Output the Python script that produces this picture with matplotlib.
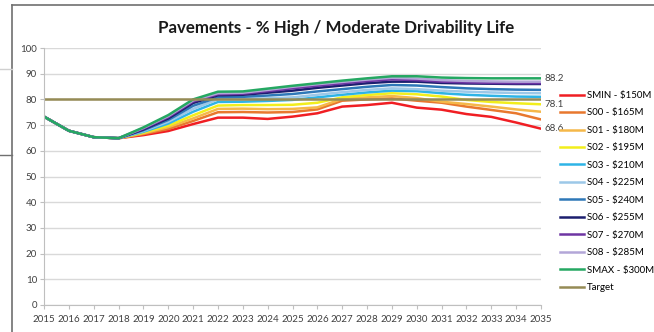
import matplotlib
matplotlib.use("Agg")
import matplotlib.pyplot as plt
from matplotlib.lines import Line2D

plt.rcParams['font.family'] = ['Lato', 'DejaVu Sans']

years = list(range(2015, 2036))

# % of network in high / moderate drivability life per funding scenario
smin = [73.3, 67.8, 65.3, 64.9, 66.1, 67.7, 70.4, 72.9, 72.9, 72.4, 73.3, 74.6, 77.2, 77.8, 78.7, 76.8, 76.0, 74.3, 73.2, 71.0, 68.6]
s00 = [73.3, 67.8, 65.3, 64.9, 66.5, 68.5, 71.6, 75.0, 75.1, 74.9, 75.1, 76.1, 79.5, 80.0, 80.4, 79.5, 78.7, 77.2, 75.9, 74.6, 72.2]
s01 = [73.3, 67.8, 65.3, 64.9, 66.8, 69.2, 72.6, 76.3, 76.4, 76.2, 76.3, 76.9, 80.2, 80.8, 81.3, 80.5, 79.1, 78.2, 77.2, 76.1, 75.2]
s02 = [73.3, 67.8, 65.3, 64.9, 67.1, 69.8, 73.8, 77.6, 77.8, 77.8, 77.9, 78.7, 80.8, 81.7, 82.4, 82.0, 81.1, 79.8, 79.0, 78.5, 78.1]
s03 = [73.3, 67.8, 65.3, 64.9, 67.4, 70.6, 75.2, 79.0, 79.1, 79.4, 79.8, 80.8, 81.8, 82.7, 83.4, 83.2, 82.4, 81.8, 81.4, 81.1, 81.0]
s04 = [73.3, 67.8, 65.3, 64.9, 67.7, 71.3, 76.3, 80.0, 80.1, 80.4, 80.8, 81.8, 82.8, 83.7, 84.3, 84.0, 83.4, 83.0, 82.7, 82.5, 82.4]
s05 = [73.3, 67.8, 65.3, 64.9, 68.0, 72.0, 77.5, 80.8, 81.0, 81.5, 82.1, 83.1, 84.0, 84.9, 85.6, 85.4, 84.8, 84.3, 84.0, 83.8, 83.7]
s06 = [73.3, 67.8, 65.3, 64.9, 68.3, 72.6, 78.6, 81.6, 81.8, 82.6, 83.4, 84.5, 85.4, 86.3, 86.9, 86.9, 86.4, 86.2, 86.1, 86.0, 86.0]
s07 = [73.3, 67.8, 65.3, 64.9, 68.6, 73.1, 79.2, 82.0, 82.2, 83.2, 84.3, 85.3, 86.2, 87.1, 87.8, 87.5, 86.9, 86.6, 86.4, 86.3, 86.3]
s08 = [73.3, 67.8, 65.3, 64.9, 68.9, 73.5, 79.6, 82.4, 82.6, 83.7, 84.9, 85.9, 86.8, 87.7, 88.4, 88.1, 87.5, 87.2, 87.0, 86.9, 86.9]
smax = [73.3, 67.8, 65.3, 64.9, 69.1, 73.9, 80.0, 83.0, 83.1, 84.2, 85.3, 86.3, 87.3, 88.2, 89.0, 89.0, 88.5, 88.3, 88.2, 88.2, 88.2]
target = [80.0] * len(years)

names = ["SMIN - $150M", "S00 - $165M", "S01 - $180M", "S02 - $195M", "S03 - $210M", "S04 - $225M",
         "S05 - $240M", "S06 - $255M", "S07 - $270M", "S08 - $285M", "SMAX - $300M", "Target"]
series = [smin, s00, s01, s02, s03, s04, s05, s06, s07, s08, smax, target]
colors = ["#F01E23", "#E8782E", "#F5B849", "#F2EE1C", "#2EB4E6", "#9CC8E8",
          "#2E78B8", "#1C1E6E", "#6E35A3", "#B3A6D8", "#25A862", "#958B55"]

# series whose final value gets a label
end_labels = [smax, s02, smin]

fig = plt.figure(figsize=(6.54, 3.32), dpi=100)
ax = fig.add_axes([44 / 654, 27 / 332, 497 / 654, 257 / 332])

for vals, name, c in zip(series, names, colors):
    ax.plot(years, vals, color=c, lw=1.8, label=name, solid_capstyle='round')

for vals in end_labels:
    ax.text(years[-1] + 0.15, vals[-1], "%.1f" % vals[-1], fontsize=7, color="#404040",
            va='center', ha='left')

ax.set_xlim(2015, 2035)
ax.set_ylim(0, 100)
ax.set_xticks(years)
ax.set_yticks(range(0, 101, 10))
ax.grid(axis='y', color="#D9D9D9", lw=1)
ax.set_axisbelow(True)
for s in ['top', 'right']:
    ax.spines[s].set_visible(False)
for s in ['left', 'bottom']:
    ax.spines[s].set_color("#BFBFBF")
ax.tick_params(colors="#BFBFBF", labelcolor="#404040", labelsize=7, length=3, pad=2)
ax.tick_params(axis='x', pad=4)

fig.text(336 / 654, 1 - 28 / 332, "Pavements - % High / Moderate Drivability Life",
         fontsize=12.2, fontweight='bold', ha='center', va='center', color="#1a1a1a")

handles = [Line2D([], [], color=c, lw=1.8) for c in colors]
fig.legend(handles, names, loc='upper left', bbox_to_anchor=(560 / 654, 1 - 91 / 332),
           frameon=False, fontsize=7, handlelength=2.5, handletextpad=0.3,
           labelspacing=0.87, borderaxespad=0, borderpad=0)

# window frame around the chart
fig.add_artist(Line2D([12 / 654, 12 / 654], [0, 1 - 5 / 332], color="#707070", lw=1.2,
                      transform=fig.transFigure))
fig.add_artist(Line2D([12 / 654, 1], [1 - 5 / 332, 1 - 5 / 332], color="#707070", lw=1.2,
                      transform=fig.transFigure))
fig.add_artist(Line2D([0, 12 / 654], [1 - 155 / 332, 1 - 155 / 332], color="#707070", lw=1,
                      transform=fig.transFigure))
fig.add_artist(Line2D([0, 12 / 654], [1 - 69 / 332, 1 - 69 / 332], color="#D0D0D0", lw=1,
                      transform=fig.transFigure))

fig.savefig("out.png", dpi=100)
